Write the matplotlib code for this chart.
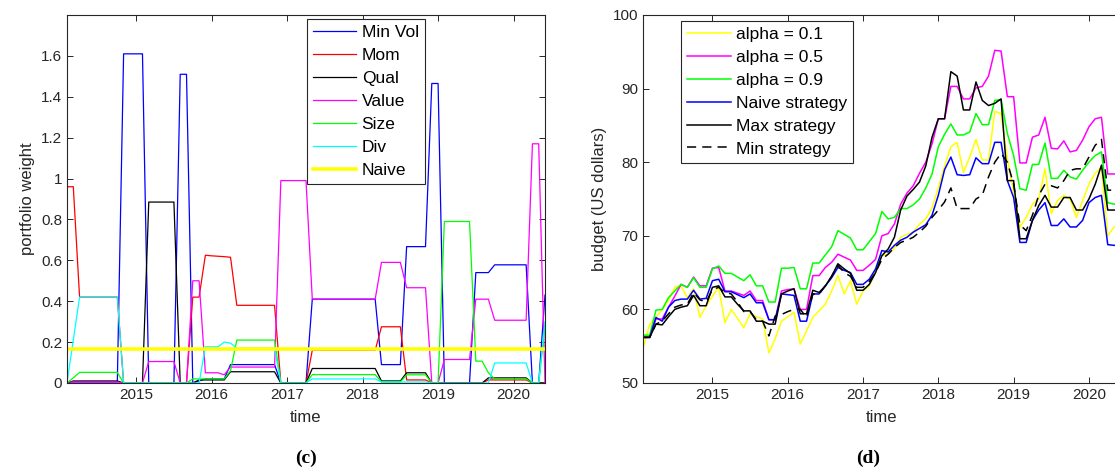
import numpy as np
import matplotlib
matplotlib.use('Agg')
import matplotlib.pyplot as plt
from matplotlib.ticker import FuncFormatter

plt.rcParams['font.family'] = ['Liberation Sans', 'DejaVu Sans']

# monthly time axis, Feb 2014 .. Jun 2020 (decimal years)
months = 2014 + np.arange(1, 78) / 12

# (c) portfolio weights per factor
minvol = [0.005] * 9 + [1.61] * 4 + [0.0] * 5 + [1.51] * 2 + [0.0, 0.01] + [0.02] * 4 \
    + [0.09] * 8 + [0.0] * 5 + [0.41] * 11 + [0.09] * 4 + [0.667] * 4 + [1.465] * 2 \
    + [0.0] * 5 + [0.54] * 3 + [0.578] * 6 + [0.0] * 2 + [0.43]
mom = [0.96] * 2 + [0.42] * 7 + [0.0] * 11 + [0.42] * 2 + [0.625, 0.622, 0.62, 0.618, 0.615] \
    + [0.38] * 7 + [0.0] * 5 + [0.16] * 11 + [0.275] * 4 + [0.015] * 4 + [0.0] * 9 \
    + [0.015] * 7 + [0.0] * 3
qual = [0.0] + [0.01] * 8 + [0.0] * 4 + [0.885] * 5 + [0.0] * 3 + [0.015] * 5 + [0.055] * 8 \
    + [0.0] * 5 + [0.071] * 11 + [0.01] * 4 + [0.05] * 4 + [0.0] * 9 + [0.025] * 7 + [0.0] * 3
value = [0.005] * 9 + [0.0] * 4 + [0.105] * 5 + [0.0] * 2 + [0.50] * 2 + [0.05] * 3 + [0.04] \
    + [0.078] * 8 + [0.99] * 5 + [0.41] * 11 + [0.59] * 4 + [0.466] * 4 + [0.0] * 2 \
    + [0.115] * 5 + [0.41] * 3 + [0.307] * 6 + [1.17] * 2 + [0.0]
size = [0.0, 0.025] + [0.052] * 7 + [0.0] * 11 + [0.02] * 6 + [0.06] + [0.21] * 7 + [0.0] * 5 \
    + [0.041] * 11 + [0.005] * 4 + [0.04] * 4 + [0.0] * 2 + [0.79] * 5 + [0.107] * 2 + [0.05] \
    + [0.02] * 6 + [0.0] * 2 + [0.28]
div = [0.0, 0.21] + [0.42] * 7 + [0.0] * 13 + [0.177] * 3 + [0.2, 0.195] + [0.17] * 7 \
    + [0.0] * 5 + [0.02] * 11 + [0.005] * 8 + [0.0] * 10 + [0.098] * 6 + [0.0] * 2 + [0.3]
naive_w = [0.167] * 77

# (d) budget of each strategy
alpha01 = [54.9, 58.0, 58.9, 60.0, 61.2, 63.0, 63.2, 61.6, 62.8, 58.9, 60.5, 61.8, 63.0, 58.2,
           60.0, 58.8, 57.5, 59.4, 59.0, 58.7, 54.1, 56.0, 58.4, 59.0, 59.6, 55.3, 57.1, 58.9,
           59.8, 60.7, 62.5, 64.6, 62.1, 63.9, 60.7, 62.5, 63.2, 65.3, 67.3, 67.5, 68.3, 69.8,
           70.2, 70.5, 71.6, 72.3, 73.8, 76.5, 79.5, 82.1, 82.7, 78.6, 80.7, 83.1, 80.3, 80.3,
           86.9, 86.6, 80.5, 76.0, 71.2, 72.5, 74.3, 75.0, 79.1, 73.0, 74.8, 75.5, 75.0, 72.5,
           74.8, 77.0, 78.5, 79.3, 70.0, 71.2, 71.2]
alpha05 = [56.2, 56.2, 58.7, 58.7, 60.3, 61.8, 63.4, 63.0, 64.4, 63.2, 63.2, 65.6, 65.7, 62.5,
           62.5, 62.2, 61.9, 62.5, 61.2, 61.2, 58.6, 58.6, 62.5, 62.7, 62.8, 60.0, 60.0, 64.6,
           64.6, 65.7, 66.4, 67.5, 67.1, 66.7, 65.3, 65.3, 66.0, 66.8, 70.0, 70.3, 71.6, 74.3,
           75.8, 76.8, 78.5, 80.0, 82.5, 85.9, 85.9, 90.3, 90.3, 88.6, 88.6, 90.1, 90.3, 91.7,
           95.2, 95.1, 88.9, 88.9, 79.9, 79.9, 83.4, 83.7, 86.1, 81.9, 81.8, 82.9, 81.4, 81.6,
           83.0, 84.8, 85.9, 86.1, 78.4, 78.4, 78.4]
alpha09 = [56.5, 56.5, 59.9, 60.0, 61.6, 62.5, 63.4, 63.0, 64.3, 63.0, 63.0, 65.5, 65.9, 64.9,
           64.9, 64.4, 63.9, 64.7, 63.2, 63.2, 61.0, 61.0, 65.6, 65.6, 65.7, 62.8, 62.8, 66.3,
           66.3, 67.4, 68.5, 70.7, 70.2, 69.7, 68.1, 68.1, 69.2, 70.3, 73.3, 72.3, 72.5, 73.7,
           73.7, 74.2, 75.0, 76.5, 78.4, 82.1, 83.8, 85.2, 83.7, 83.7, 84.1, 86.6, 85.1, 85.1,
           88.4, 88.5, 83.9, 80.9, 76.4, 76.2, 79.7, 79.7, 82.6, 77.8, 77.8, 78.9, 78.0, 77.7,
           78.9, 80.0, 80.9, 81.4, 74.5, 74.3, 74.3]
naive_b = [56.2, 56.2, 58.9, 58.4, 60.3, 61.2, 61.4, 61.4, 62.6, 61.4, 61.5, 63.9, 64.1, 62.4,
           62.4, 62.0, 61.6, 62.1, 60.9, 60.9, 58.6, 58.6, 62.1, 62.0, 61.9, 58.4, 58.4, 62.1,
           62.1, 63.2, 64.3, 65.7, 65.3, 65.0, 63.4, 63.4, 64.1, 65.5, 68.0, 67.8, 68.7, 69.4,
           69.8, 70.5, 71.0, 71.5, 72.8, 75.5, 79.0, 80.7, 78.3, 78.2, 78.3, 80.6, 79.8, 79.8,
           82.7, 82.7, 77.5, 75.2, 69.1, 69.1, 72.1, 73.5, 74.5, 71.4, 71.4, 72.3, 71.2, 71.2,
           72.1, 74.5, 75.2, 75.5, 68.8, 68.7, 68.7]
max_b = [56.2, 56.2, 58.0, 57.9, 59.0, 60.0, 60.3, 60.5, 61.9, 60.5, 60.5, 63.0, 63.2, 61.7,
         61.7, 60.7, 59.8, 59.8, 58.4, 58.4, 58.0, 58.0, 62.1, 62.5, 62.8, 59.4, 59.4, 62.6,
         62.3, 63.2, 64.5, 66.2, 65.5, 64.9, 62.6, 62.6, 63.4, 65.0, 67.3, 68.2, 69.8, 73.5,
         75.4, 76.3, 77.3, 79.5, 83.4, 85.9, 85.9, 92.3, 91.7, 87.1, 87.1, 90.9, 88.4, 87.7,
         88.0, 88.6, 77.5, 77.5, 69.6, 69.6, 72.1, 74.1, 75.5, 73.9, 73.9, 75.2, 75.2, 73.5,
         73.5, 75.0, 77.0, 79.6, 73.5, 73.5, 73.5]
min_b = [56.2, 56.2, 58.0, 58.4, 59.4, 60.3, 60.6, 60.7, 62.3, 61.3, 61.0, 62.7, 63.0, 62.3,
         62.1, 61.0, 59.7, 59.7, 58.6, 58.4, 56.4, 59.1, 59.3, 59.7, 60.0, 60.0, 58.9, 62.1,
         62.1, 63.2, 64.5, 66.0, 65.0, 64.5, 63.0, 63.0, 63.8, 65.0, 66.8, 67.5, 68.4, 69.1,
         69.4, 69.8, 70.5, 71.3, 72.5, 73.5, 74.6, 76.5, 73.7, 73.7, 73.7, 75.0, 75.5, 78.0,
         80.0, 81.2, 80.0, 77.0, 71.5, 70.7, 72.8, 75.5, 77.0, 76.8, 76.5, 77.5, 78.9, 79.1,
         79.1, 80.7, 82.3, 83.1, 76.2, 76.2, 76.2]

years = [2015, 2016, 2017, 2018, 2019, 2020]
dark = '#262626'


def matlab_axes(ax, right=True):
    for s in ax.spines.values():
        s.set_color(dark)
        s.set_linewidth(0.8)
    ax.tick_params(direction='in', top=True, right=right, length=4, width=0.7,
                   colors=dark, labelsize=11)
    ax.set_xticks(years)
    ax.set_xlim(months[0], months[-1])


def add_legend(ax, anchor):
    leg = ax.legend(loc='upper left', bbox_to_anchor=anchor, borderaxespad=0,
                    fancybox=False, edgecolor=dark, framealpha=1, fontsize=12.5,
                    handlelength=2.5, labelspacing=0.45, borderpad=0.35, handletextpad=0.3)
    leg.get_frame().set_linewidth(0.8)


fig = plt.figure(figsize=(11.15, 4.7), dpi=100)
ax1 = fig.add_axes([67 / 1115, 87 / 470, 478 / 1115, 368 / 470])
ax2 = fig.add_axes([643.4 / 1115, 87 / 470, 476.9 / 1115, 368 / 470])

# left panel
lw = 0.9
ax1.plot(months, minvol, color='#0000ff', lw=lw, label='Min Vol')
ax1.plot(months, mom, color='#ff0000', lw=lw, label='Mom')
ax1.plot(months, qual, color='#000000', lw=lw, label='Qual')
ax1.plot(months, value, color='#ff00ff', lw=lw, label='Value')
ax1.plot(months, size, color='#00ff00', lw=lw, label='Size')
ax1.plot(months, div, color='#00ffff', lw=lw, label='Div')
ax1.plot(months, naive_w, color='#ffff00', lw=2.6, label='Naive')
matlab_axes(ax1)
ax1.set_ylim(0, 1.8)
ax1.set_yticks([0, 0.2, 0.4, 0.6, 0.8, 1.0, 1.2, 1.4, 1.6])
ax1.yaxis.set_major_formatter(FuncFormatter(lambda v, p: '%g' % round(v, 1)))
ax1.set_xlabel('time', fontsize=12, color=dark, labelpad=6)
ax1.set_ylabel('portfolio weight', fontsize=12, color=dark, labelpad=4)
add_legend(ax1, (0.502, 0.989))

# right panel (its right edge is cut off by the figure border)
lw = 1.1
ax2.plot(months, alpha01, color='#ffff00', lw=lw, label='alpha = 0.1')
ax2.plot(months, alpha05, color='#ff00ff', lw=lw, label='alpha = 0.5')
ax2.plot(months, alpha09, color='#00ff00', lw=lw, label='alpha = 0.9')
ax2.plot(months, naive_b, color='#0000ff', lw=lw, label='Naive strategy')
ax2.plot(months, max_b, color='#000000', lw=lw, label='Max strategy')
ax2.plot(months, min_b, color='#000000', lw=lw, ls=(0, (6, 4)), label='Min strategy')
matlab_axes(ax2, right=False)
ax2.set_ylim(50, 100)
ax2.set_yticks([50, 60, 70, 80, 90, 100])
ax2.set_xlabel('time', fontsize=12, color=dark, labelpad=6)
ax2.set_ylabel('budget (US dollars)', fontsize=12, color=dark, labelpad=4)
add_legend(ax2, (0.079, 0.985))

fig.text(306 / 1115, 1 - 458 / 470, '(c)', ha='center', va='center', fontsize=14,
         fontweight='bold', family=['Liberation Serif', 'DejaVu Serif'])
fig.text(868 / 1115, 1 - 458 / 470, '(d)', ha='center', va='center', fontsize=14,
         fontweight='bold', family=['Liberation Serif', 'DejaVu Serif'])

fig.savefig('out.png', dpi=100)
print('Saved to out.png')
